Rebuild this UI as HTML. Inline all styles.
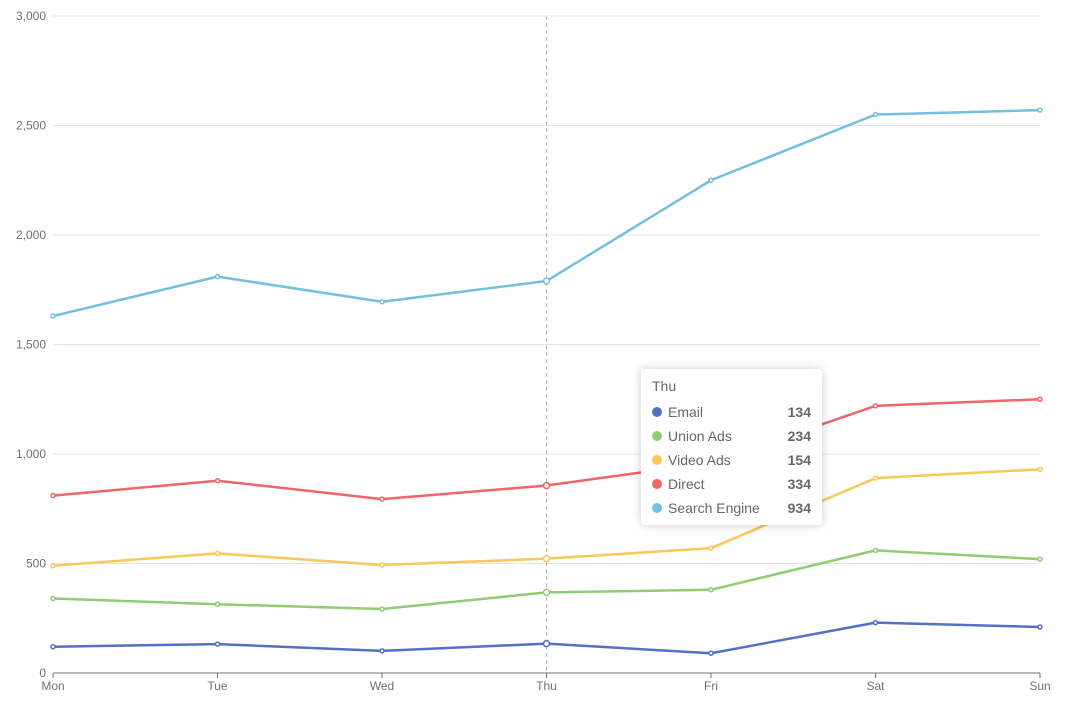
<!DOCTYPE html>
<html><head><meta charset="utf-8"><style>
body{margin:0;background:#fff;font-family:"Liberation Sans",sans-serif;}
#tt{position:absolute;left:641px;top:369px;width:181px;height:156px;background:#fff;border-radius:4px;box-shadow:0 0 10px rgba(0,0,0,0.2);box-sizing:border-box;padding:9px 11px;font-size:14px;color:#666;}
#tt .h{margin-bottom:6px;}
#tt .r{display:flex;align-items:center;height:24px;}
#tt .d{width:10px;height:10px;border-radius:5px;margin-right:6px;}
#tt .v{margin-left:auto;font-weight:bold;color:#666;}
</style></head><body>
<svg id="c" width="1074" height="714" style="position:absolute;left:0;top:0"></svg>
<div id="tt"></div>
<script>
const categories=["Mon","Tue","Wed","Thu","Fri","Sat","Sun"];
const seriesNames=["Email","Union Ads","Video Ads","Direct","Search Engine"];
const email=[120,132,101,134,90,230,210];
const unionAds=[220,182,191,234,290,330,310];
const videoAds=[150,232,201,154,190,330,410];
const direct=[320,332,301,334,390,330,320];
const searchEngine=[820,932,901,934,1290,1330,1320];
const yTicks=[0,500,1000,1500,2000,2500,3000];
const colors=["#5470c6","#91cc75","#fac858","#ee6666","#73c0de"];
const hoverIndex=3;
const all=[email,unionAds,videoAds,direct,searchEngine];
const X0=53,X1=1040,Y0=673,Y1=16;
const x=i=>X0+(X1-X0)*i/(categories.length-1);
const y=v=>Y0-(Y0-Y1)*v/3000;
const svg=document.getElementById('c');const NS='http://www.w3.org/2000/svg';
function mk(t,a,p){const e=document.createElementNS(NS,t);for(const k in a)e.setAttribute(k,a[k]);(p||svg).appendChild(e);return e;}
yTicks.forEach(t=>{
 const g=mk('line',{x1:X0,x2:X1,y1:y(t),y2:y(t),stroke:t===0?'#6e7079':'#e0e6f1'});
 
 
 const l=mk('text',{x:X0-7,y:y(t)+4,'text-anchor':'end','font-size':12,fill:'#6e7079'});
 l.textContent=t.toLocaleString('en-US');
 
 
});
categories.forEach((c,i)=>{
 const tk=mk('line',{x1:x(i),x2:x(i),y1:Y0,y2:Y0+5,stroke:'#6e7079'});
 
 
 const l=mk('text',{x:x(i),y:Y0+17,'text-anchor':'middle','font-size':12,fill:'#6e7079'});
 l.textContent=c;
 
 
});
const ap=mk('line',{x1:x(hoverIndex),x2:x(hoverIndex),y1:Y1,y2:Y0,stroke:'#b6b9c6','stroke-dasharray':'4,3'});


const cum=categories.map(()=>0);
all.forEach((s,si)=>{
 const pts=s.map((v,i)=>{cum[i]+=v;return [x(i),y(cum[i])];});
 const p=mk('polyline',{points:pts.map(q=>q.join(',')).join(' '),fill:'none',stroke:colors[si],'stroke-width':2.5,'stroke-linejoin':'round'});
 
 
 pts.forEach((q,i)=>{
  const c=mk('circle',{cx:q[0],cy:q[1],r:i===hoverIndex?3:2,fill:'#fff',stroke:colors[si],'stroke-width':1.5});
  
  
 });
});
const tt=document.getElementById('tt');
const h=document.createElement('div');h.className='h';h.textContent=categories[hoverIndex];tt.appendChild(h);
all.forEach((s,si)=>{
 const r=document.createElement('div');r.className='r';
 
 
 r.innerHTML='<span class="d" style="background:'+colors[si]+'"></span><span>'+seriesNames[si]+'</span><span class="v">'+s[hoverIndex]+'</span>';
 tt.appendChild(r);
});
</script>
</body></html>
